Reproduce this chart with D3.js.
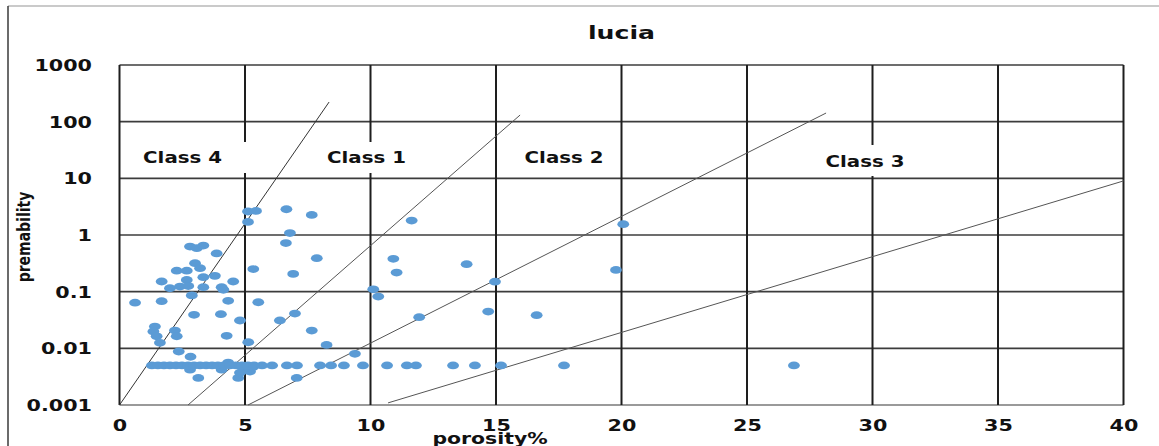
<!DOCTYPE html>
<html><head><meta charset="utf-8">
<script src="https://cdn.jsdelivr.net/npm/d3@7"></script>
<style>body{margin:0;background:#fff}svg{display:block}</style>
</head><body><svg id="c" width="1159" height="446"></svg>
<script>
// ---- data ----
const xTicks = [0, 5, 10, 15, 20, 25, 30, 35, 40];
const xTickLabels = ["0", "5", "10", "15", "20", "25", "30", "35", "40"];
const yTicks = [0.001, 0.01, 0.1, 1, 10, 100, 1000];
const yTickLabels = ["0.001", "0.01", "0.1", "1", "10", "100", "1000"];
const title = "lucia";
const xTitle = "porosity%";
const yTitle = "premability";

const porosity = [
  5.12, 5.44, 5.12, 6.65, 7.66, 6.79, 6.63, 7.86, 5.33, 6.92, 11.64, 10.91, 11.04, 10.11, 10.31,
  13.83, 14.96, 14.69, 16.62, 11.94, 20.07, 19.78,
  2.81, 3.08, 3.34, 3.87, 3.01, 3.21, 2.28, 2.68, 3.34, 3.80, 2.68, 1.68, 2.01, 2.41, 2.74, 3.34,
  4.07, 4.14, 4.53, 2.88, 0.62, 1.68, 4.33, 5.53, 2.97, 4.04, 4.80, 6.39, 6.99, 1.41, 1.35, 1.48,
  1.61, 2.21, 2.28, 4.27, 5.13, 2.36, 2.83, 3.14, 4.73, 7.06, 7.66, 8.25, 9.38, 2.81, 4.07, 4.33,
  4.93, 5.20, 4.80, 5.32,
  1.29, 1.53, 1.77, 2.01, 2.25, 2.49, 2.73, 2.97, 3.21, 3.45, 3.69, 3.92, 4.16, 4.40, 4.64, 4.88,
  5.12, 5.36, 5.68, 6.08, 6.67, 7.07, 7.99, 8.43, 8.94, 9.70, 10.66, 11.45, 11.81, 13.29, 14.16,
  15.20, 17.71, 26.87
];
const permeability = [
  2.6, 2.66, 1.70, 2.85, 2.26, 1.08, 0.72, 0.39, 0.25, 0.206, 1.8, 0.38, 0.217, 0.11, 0.082,
  0.305, 0.15, 0.0446, 0.0385, 0.0355, 1.55, 0.242,
  0.624, 0.585, 0.65, 0.473, 0.318, 0.26, 0.235, 0.235, 0.18, 0.19, 0.161, 0.151, 0.115, 0.123, 0.126, 0.12,
  0.12, 0.108, 0.151, 0.086, 0.064, 0.068, 0.069, 0.065, 0.039, 0.040, 0.031, 0.031, 0.041, 0.0242, 0.0198, 0.0163,
  0.0125, 0.0206, 0.0163, 0.0166, 0.0128, 0.0088, 0.0071, 0.003, 0.003, 0.003, 0.0206, 0.0115, 0.008, 0.0042, 0.0042, 0.0056,
  0.0042, 0.0039, 0.0037, 0.0047,
  0.005, 0.005, 0.005, 0.005, 0.005, 0.005, 0.005, 0.005, 0.005, 0.005, 0.005, 0.005, 0.005, 0.005, 0.005, 0.005,
  0.005, 0.005, 0.005, 0.005, 0.005, 0.005, 0.005, 0.005, 0.005, 0.005, 0.005, 0.005, 0.005, 0.005, 0.005,
  0.005, 0.005, 0.005
];

// class boundary lines: [porosity, permeability] end points
const boundaryStart = [[0, 0.001], [2.73, 0.001], [5.12, 0.001], [10.7, 0.00109]];
const boundaryEnd = [[8.35, 222], [15.96, 131], [28.15, 142], [40, 9]];

// class annotations
const classLabels = ["Class 4", "Class 1", "Class 2", "Class 3"];
const classLabelX = [2.51, 9.84, 17.71, 29.70];
const classLabelY = [22.9, 22.9, 22.9, 19.9];

// ---- drawing ----
const svg = d3.select("#c");
const W = 1159, H = 446;
const m = {l: 119.5, r: 1123.5, t: 65, b: 405};
const x = d3.scaleLinear().domain([0, 40]).range([m.l, m.r]);
const y = d3.scaleLog().domain([0.001, 1000]).range([m.b, m.t]);
const FONT = "'DejaVu Sans', Verdana, sans-serif";

svg.append("rect").attr("width", W).attr("height", H).attr("fill", "#fff");
// outer frame
svg.append("line").attr("x1", 8).attr("y1", 6).attr("x2", W).attr("y2", 6)
  .attr("stroke", "#b8b8b8").attr("stroke-width", 1.5);
svg.append("line").attr("x1", 8).attr("y1", 6).attr("x2", 8).attr("y2", H)
  .attr("stroke", "#3a3a3a").attr("stroke-width", 1.5);

// gridlines
const grid = svg.append("g");
grid.selectAll("line.h").data(yTicks).join("line").attr("class", "h")
  .attr("x1", m.l).attr("x2", m.r).attr("y1", d => y(d)).attr("y2", d => y(d))
  .attr("stroke", d => d === 0.001 ? "#9a9a9a" : "#3c3c3c").attr("stroke-width", d => d === 0.001 ? 2.2 : 1.6);
grid.selectAll("line.v").data(xTicks).join("line").attr("class", "v")
  .attr("y1", m.t).attr("y2", m.b).attr("x1", d => x(d)).attr("x2", d => x(d))
  .attr("stroke", "#1e1e1e").attr("stroke-width", 2);

// class label white boxes (cover gridlines)
const boxL = [135, 322, 520, 820];
const boxR = [252, 411, 608, 910];
const boxT = [142, 142, 142, 145];
const boxB = [173, 173, 173, 176];
svg.append("g").selectAll("rect").data(classLabels).join("rect")
  .attr("x", (d, i) => boxL[i]).attr("y", (d, i) => boxT[i])
  .attr("width", (d, i) => boxR[i] - boxL[i]).attr("height", (d, i) => boxB[i] - boxT[i])
  .attr("fill", "#fff");

// boundary lines
svg.append("g").selectAll("line").data(boundaryStart).join("line")
  .attr("x1", d => x(d[0])).attr("y1", d => y(d[1]))
  .attr("x2", (d, i) => x(boundaryEnd[i][0])).attr("y2", (d, i) => y(boundaryEnd[i][1]))
  .attr("stroke", (d, i) => i === 0 ? "#333" : "#555").attr("stroke-width", 1);

// points
svg.append("g").selectAll("ellipse").data(porosity).join("ellipse")
  .attr("cx", d => x(d)).attr("cy", (d, i) => y(permeability[i]))
  .attr("rx", 5.9).attr("ry", 3.9).attr("fill", "#5b9bd5");

// class labels
svg.append("g").selectAll("text").data(classLabels).join("text")
  .attr("transform", (d, i) => `translate(${x(classLabelX[i])},${y(classLabelY[i])}) scale(1.32,1)`)
  .attr("text-anchor", "middle").attr("dy", "0.36em")
  .attr("font-family", FONT).attr("font-weight", "bold").attr("font-size", 15).attr("fill", "#111")
  .text(d => d);

// axes
const ya = svg.append("g").attr("transform", `translate(${m.l},0)`)
  .call(d3.axisLeft(y).tickValues(yTicks).tickFormat((d, i) => yTickLabels[i]).tickSize(0).tickPadding(0));
ya.select(".domain").remove();
ya.selectAll("text").attr("x", 0).attr("dy", "0.36em")
  .attr("transform", "translate(-27.5,0) scale(1.38,1)")
  .attr("font-family", FONT).attr("font-weight", "bold").attr("font-size", 15).attr("fill", "#111");

const xa = svg.append("g").attr("transform", `translate(0,${m.b})`)
  .call(d3.axisBottom(x).tickValues(xTicks).tickFormat((d, i) => xTickLabels[i]).tickSize(0).tickPadding(0));
xa.select(".domain").remove();
xa.selectAll("text").attr("y", 0).attr("dy", 0)
  .attr("transform", "translate(0,25.5) scale(1.38,1)")
  .attr("font-family", FONT).attr("font-weight", "bold").attr("font-size", 15).attr("fill", "#111");

// titles
svg.append("text").attr("transform", `translate(${(m.l + m.r) / 2},39) scale(1.4,1)`)
  .attr("text-anchor", "middle").attr("font-family", FONT).attr("font-weight", "bold")
  .attr("font-size", 18).attr("fill", "#111").text(title);
svg.append("text").attr("transform", `translate(490,444) scale(1.36,1)`)
  .attr("text-anchor", "middle").attr("font-family", FONT).attr("font-weight", "bold")
  .attr("font-size", 15).attr("fill", "#111").text(xTitle);
svg.append("text").attr("transform", `translate(30,237) scale(1.25,1) rotate(-90)`)
  .attr("text-anchor", "middle").attr("font-family", FONT).attr("font-weight", "bold")
  .attr("font-size", 14).attr("fill", "#111").text(yTitle);
</script>
</body></html>
